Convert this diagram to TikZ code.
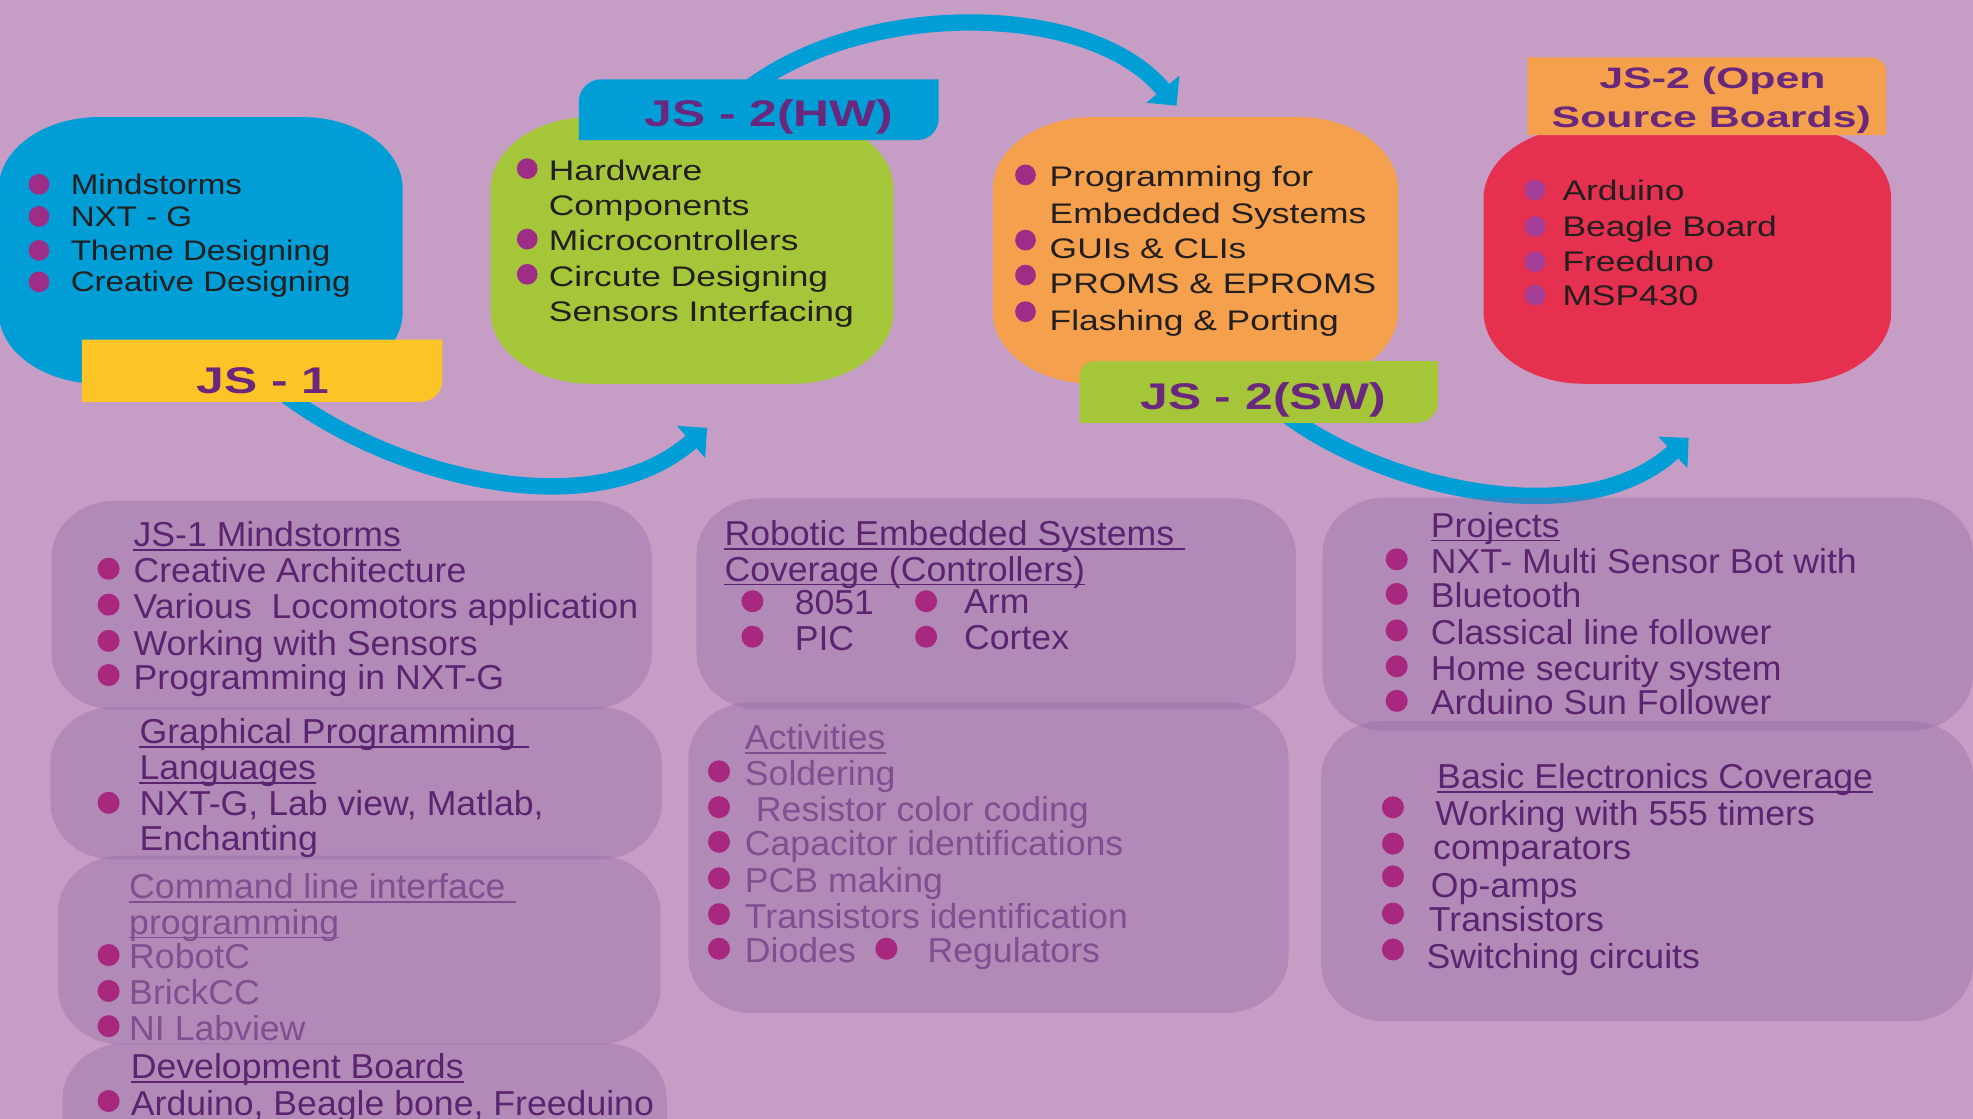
\documentclass[tikz,border=0pt]{standalone}
\usepackage{fontspec}
\setmainfont{Liberation Sans}
\usetikzlibrary{arrows.meta}
\definecolor{bgc}{RGB}{197,157,197}
\definecolor{panc}{RGB}{140,100,160}
\definecolor{bluec}{RGB}{0,158,214}
\definecolor{greenc}{RGB}{165,198,57}
\definecolor{orangec}{RGB}{245,160,76}
\definecolor{redc}{RGB}{229,48,79}
\definecolor{yellowc}{RGB}{253,196,40}
\definecolor{lblc}{RGB}{105,40,125}
\definecolor{dtxtc}{RGB}{92,36,112}
\definecolor{ltxtc}{RGB}{125,80,145}
\definecolor{bdotc}{RGB}{168,40,128}
\definecolor{tdotc}{RGB}{158,45,135}
\definecolor{rdotc}{RGB}{165,62,150}
\definecolor{ttxc}{RGB}{35,31,32}
% elliptical-corner rounded rectangle: #1 style, (#2,#3)-(#4,#5), radii #6,#7
\newcommand\myrbox[7]{%
 \path[#1] (#2+#6,#3) -- (#4-#6,#3) .. controls (#4-0.448*#6,#3) and (#4,#3+0.448*#7) .. (#4,#3+#7)
  -- (#4,#5-#7) .. controls (#4,#5-0.448*#7) and (#4-0.448*#6,#5) .. (#4-#6,#5)
  -- (#2+#6,#5) .. controls (#2+0.448*#6,#5) and (#2,#5-0.448*#7) .. (#2,#5-#7)
  -- (#2,#3+#7) .. controls (#2,#3+0.448*#7) and (#2+0.448*#6,#3) .. cycle;}
\tikzset{
 panel/.style={fill=panc, fill opacity=0.33},
 arr/.style={draw=bluec, line width=13pt, -{Triangle[length=17pt,width=33pt]}},
 lbl/.style={inner sep=0pt, text=lblc, font=\bfseries\fontsize{29.5}{30}\selectfont, xscale=1.34, text height=21.1pt, text depth=0pt},
 lblsm/.style={inner sep=0pt, text=lblc, font=\bfseries\fontsize{23.5}{24}\selectfont, xscale=1.45, text height=16.8pt, text depth=0pt},
 ttx/.style={anchor=west, inner sep=0pt, text=ttxc, font=\fontsize{22.5}{24}\selectfont, xscale=1.25, text height=16.1pt, text depth=0pt},
 ttxb/.style={anchor=west, inner sep=0pt, text=ttxc, font=\fontsize{22.5}{24}\selectfont, xscale=1.17, text height=16.1pt, text depth=0pt},
 tdot/.style={circle, inner sep=0pt, minimum size=16.5pt, fill=tdotc},
 rdot/.style={circle, inner sep=0pt, minimum size=16.5pt, fill=rdotc},
 btx/.style={anchor=west, inner sep=0pt, text=dtxtc, font=\fontsize{27.5}{28}\selectfont, xscale=1.03, text height=19.7pt, text depth=0pt},
 ltx/.style={anchor=west, inner sep=0pt, text=ltxtc, font=\fontsize{27.5}{28}\selectfont, xscale=1.03, text height=19.7pt, text depth=0pt},
 bdot/.style={circle, inner sep=0pt, minimum size=17.5pt, fill=bdotc},
 uld/.style={line width=1.5pt, draw=dtxtc},
 ull/.style={line width=1.5pt, draw=ltxtc},
}
\begin{document}
\begin{tikzpicture}[x=1pt,y=-1pt]
\useasboundingbox (0,0) rectangle (1568,889);
\clip (0,0) rectangle (1568,889);
\fill[bgc] (0,0) rectangle (1568,889);

% ---------- top boxes ----------
\myrbox{fill=bluec}{-1}{93}{320}{305}{80}{57}
\myrbox{fill=greenc}{390}{93}{710}{305}{80}{57}
\myrbox{fill=orangec}{789}{93}{1111}{305}{80}{57}
\myrbox{fill=redc}{1179}{101}{1503}{305}{80}{57}

% ---------- arrows ----------
\coordinate (a1s) at (210,300);
\coordinate (a1e) at (562,340);
\coordinate (a2s) at (590,74);
\coordinate (a2e) at (935,84);
\coordinate (a3s) at (1010,320);
\coordinate (a3e) at (1342,348);
\draw[arr] (a1s) .. controls (290,372) and (465,425) .. (a1e);
\draw[arr] (a2s) .. controls (683,-1) and (866,0) .. (a2e);
\draw[arr] (a3s) .. controls (1085,385) and (1255,428) .. (a3e);

% ---------- labels ----------
\path[fill=yellowc] (65,270) -- (351.5,270) -- (351.5,319.3-17)
  .. controls (351.5,319.3-0.448*17) and (351.5-0.448*17,319.3) .. (351.5-17,319.3)
  -- (65,319.3) -- cycle;
\node[lbl] (l1) at (209,302) {JS - 1};

\path[fill=bluec] (460,63+18) .. controls (460,63+0.448*18) and (460+0.448*18,63) .. (460+18,63)
  -- (746,63) -- (746,111.3-17)
  .. controls (746,111.3-0.448*17) and (746-0.448*17,111.3) .. (746-17,111.3)
  -- (460,111.3) -- cycle;
\node[lbl] (l2) at (611,90) {JS - 2(HW)};

\path[fill=greenc] (858,287+12) .. controls (858,287+0.448*12) and (858+0.448*12,287) .. (858+12,287)
  -- (1143,287) -- (1143,336-17)
  .. controls (1143,336-0.448*17) and (1143-0.448*17,336) .. (1143-17,336)
  -- (858,336) -- cycle;
\node[lbl] (l3) at (1004,314.5) {JS - 2(SW)};

\path[fill=orangec] (1214,45.6) -- (1499-12,45.6)
  .. controls (1499-0.448*12,45.6) and (1499,45.6+0.448*12) .. (1499,45.6+12)
  -- (1499,107.3) -- (1214,107.3) -- cycle;
\node[lblsm] (l4a) at (1361,62.3) {JS-2 (Open};
\node[lblsm] (l4b) at (1360,92.7) {Source Boards)};

% ---------- top box texts ----------
\node[tdot] (bd1) at (31,146.5) {}; \node[ttxb] (bt1) at (56,146.5) {Mindstorms};
\node[tdot] (bd2) at (31,172) {};   \node[ttxb] (bt2) at (56,172) {NXT - G};
\node[tdot] (bd3) at (31,199) {};   \node[ttxb] (bt3) at (56,199) {Theme Designing};
\node[tdot] (bd4) at (31,224) {};   \node[ttxb] (bt4) at (56,224) {Creative Designing};

\node[tdot] (gd1) at (419,134) {};  \node[ttx] (gt1) at (436,135) {Hardware};
                                    \node[ttx] (gt2) at (436,163) {Components};
\node[tdot] (gd3) at (419,190) {};  \node[ttx] (gt3) at (436,190.8) {Microcontrollers};
\node[tdot] (gd4) at (419,218) {};  \node[ttx] (gt4) at (436,220) {Circute Designing};
                                    \node[ttx] (gt5) at (436,247.8) {Sensors Interfacing};

\node[tdot] (od1) at (815,139) {};   \node[ttx] (ot1) at (834,140.4) {Programming for};
                                     \node[ttx] (ot2) at (834,169.6) {Embedded Systems};
\node[tdot] (od3) at (815,190.8) {}; \node[ttx] (ot3) at (834,197.4) {GUIs \& CLIs};
\node[tdot] (od4) at (815,218.6) {}; \node[ttx] (ot4) at (834,225.2) {PROMS \& EPROMS};
\node[tdot] (od5) at (815,247.7) {}; \node[ttx] (ot5) at (834,254.4) {Flashing \& Porting};

\node[rdot] (rd1) at (1220,151) {}; \node[ttx] (rt1) at (1241.5,151) {Arduino};
\node[rdot] (rd2) at (1220,180) {}; \node[ttx] (rt2) at (1241.5,180) {Beagle Board};
\node[rdot] (rd3) at (1220,208) {}; \node[ttx] (rt3) at (1241.5,208) {Freeduno};
\node[rdot] (rd4) at (1220,234.5) {}; \node[ttx] (rt4) at (1241.5,234.5) {MSP430};

% ---------- bottom panels ----------
\myrbox{panel}{41}{398}{518}{564}{50}{45}
\myrbox{panel}{40}{562}{526}{683}{50}{45}
\myrbox{panel}{46}{680}{525}{830}{50}{45}
\myrbox{panel}{49.5}{829}{530}{935}{50}{45}
\myrbox{panel}{553.5}{396}{1030}{564}{50}{45}
\myrbox{panel}{547}{558}{1024}{805}{50}{45}
\myrbox{panel}{1051}{395.5}{1568}{581}{50}{45}
\myrbox{panel}{1050}{573}{1568}{811.6}{50}{45}

% P1
\node[btx] (h1) at (106,424.6) {JS-1 Mindstorms};
\draw[uld] ([yshift=-2.5pt]h1.south west) -- ([yshift=-2.5pt]h1.south east);
\node[bdot] (p1d1) at (86.3,452) {}; \node[btx] (p1t1) at (106,453.3) {Creative Architecture};
\node[bdot] (p1d2) at (86.3,480.5) {}; \node[btx] (p1t2) at (106,482) {Various\ \ Locomotors application};
\node[bdot] (p1d3) at (86.3,509.3) {}; \node[btx] (p1t3) at (106,510.8) {Working with Sensors};
\node[bdot] (p1d4) at (86.3,536.5) {}; \node[btx] (p1t4) at (106,538) {Programming in NXT-G};

% P2
\node[btx] (h2a) at (110.7,581) {Graphical Programming};
\draw[uld] ([yshift=-2.5pt]h2a.south west) -- ([yshift=-2.5pt,xshift=10pt]h2a.south east);
\node[btx] (h2b) at (110.7,609.6) {Languages};
\draw[uld] ([yshift=-2.5pt]h2b.south west) -- ([yshift=-2.5pt]h2b.south east);
\node[bdot] (p2d1) at (86.3,638) {}; \node[btx] (p2t1) at (110.7,638.5) {NXT-G, Lab view, Matlab,};
\node[btx] (p2t2) at (110.7,666) {Enchanting};

% P3
\node[ltx] (h3a) at (102.5,704) {Command line interface};
\draw[ull] ([yshift=-2.5pt]h3a.south west) -- ([yshift=-2.5pt,xshift=8pt]h3a.south east);
\node[ltx] (h3b) at (102.5,732.5) {programming};
\draw[ull] ([yshift=-2.5pt]h3b.south west) -- ([yshift=-2.5pt]h3b.south east);
\node[bdot] (p3d1) at (86.3,759) {}; \node[ltx] (p3t1) at (102.5,760) {RobotC};
\node[bdot] (p3d2) at (86.3,787.5) {}; \node[ltx] (p3t2) at (102.5,788.6) {BrickCC};
\node[bdot] (p3d3) at (86.3,815.5) {}; \node[ltx] (p3t3) at (102.5,817) {NI Labview};

% P4
\node[btx] (h4) at (103.8,847.5) {Development Boards};
\draw[uld] ([yshift=-2.5pt]h4.south west) -- ([yshift=-2.5pt]h4.south east);
\node[bdot] (p4d1) at (86.3,875) {}; \node[btx] (p4t1) at (103.8,876.4) {Arduino, Beagle bone, Freeduino};

% P5
\node[btx] (h5a) at (575.6,423.8) {Robotic Embedded Systems};
\draw[uld] ([yshift=-2.5pt]h5a.south west) -- ([yshift=-2.5pt,xshift=8pt]h5a.south east);
\node[btx] (h5b) at (575.6,452) {Coverage (Controllers)};
\draw[uld] ([yshift=-2.5pt]h5b.south west) -- ([yshift=-2.5pt]h5b.south east);
\node[bdot] (p5d1) at (598,477.8) {}; \node[btx] (p5t1) at (631.4,478.6) {8051};
\node[bdot] (p5d2) at (736,477.8) {}; \node[btx] (p5t2) at (766,477.8) {Arm};
\node[bdot] (p5d3) at (598,506) {};   \node[btx] (p5t3) at (631.4,507) {PIC};
\node[bdot] (p5d4) at (736,506) {};   \node[btx] (p5t4) at (766,506) {Cortex};

% P6
\node[ltx] (h6) at (591.8,585.6) {Activities};
\draw[ull] ([yshift=-2.5pt]h6.south west) -- ([yshift=-2.5pt]h6.south east);
\node[bdot] (p6d1) at (571.4,613) {}; \node[ltx] (p6t1) at (591.8,614.3) {Soldering};
\node[bdot] (p6d2) at (571.4,641.5) {}; \node[ltx] (p6t2) at (600.6,643) {Resistor color coding};
\node[bdot] (p6d3) at (571.4,669) {}; \node[ltx] (p6t3) at (591.8,670.4) {Capacitor identifications};
\node[bdot] (p6d4) at (571.4,698) {}; \node[ltx] (p6t4) at (591.8,699.3) {PCB making};
\node[bdot] (p6d5) at (571.4,726.5) {}; \node[ltx] (p6t5) at (591.8,728) {Transistors identification};
\node[bdot] (p6d6) at (571.4,754) {}; \node[ltx] (p6t6) at (591.8,755.4) {Diodes};
\node[bdot] (p6d7) at (704.4,754) {}; \node[ltx] (p6t7) at (737,755.4) {Regulators};

% P7
\node[btx] (h7) at (1137,417) {Projects};
\draw[uld] ([yshift=-2.5pt]h7.south west) -- ([yshift=-2.5pt]h7.south east);
\node[bdot] (p7d1) at (1110,444.5) {}; \node[btx] (p7t1) at (1137,445.7) {NXT- Multi Sensor Bot with};
\node[bdot] (p7d2) at (1110,472) {}; \node[btx] (p7t2) at (1137,473) {Bluetooth};
\node[bdot] (p7d3) at (1110,501) {}; \node[btx] (p7t3) at (1137,502) {Classical line follower};
\node[bdot] (p7d4) at (1110,529.5) {}; \node[btx] (p7t4) at (1137,530.7) {Home security system};
\node[bdot] (p7d5) at (1110,557) {}; \node[btx] (p7t5) at (1137,558) {Arduino Sun Follower};

% P8
\node[btx] (h8) at (1142,617) {Basic Electronics Coverage};
\draw[uld] ([yshift=-2.5pt]h8.south west) -- ([yshift=-2.5pt]h8.south east);
\node[bdot] (p8d1) at (1107,641.6) {}; \node[btx] (p8t1) at (1140.5,645.8) {Working with 555 timers};
\node[bdot] (p8d2) at (1107,670.4) {}; \node[btx] (p8t2) at (1138.8,673.5) {comparators};
\node[bdot] (p8d3) at (1107,696.5) {}; \node[btx] (p8t3) at (1137,703.3) {Op-amps};
\node[bdot] (p8d4) at (1107,726) {};   \node[btx] (p8t4) at (1135.4,730.8) {Transistors};
\node[bdot] (p8d5) at (1107,754.6) {}; \node[btx] (p8t5) at (1133.6,759.5) {Switching circuits};
\end{tikzpicture}
\end{document}
